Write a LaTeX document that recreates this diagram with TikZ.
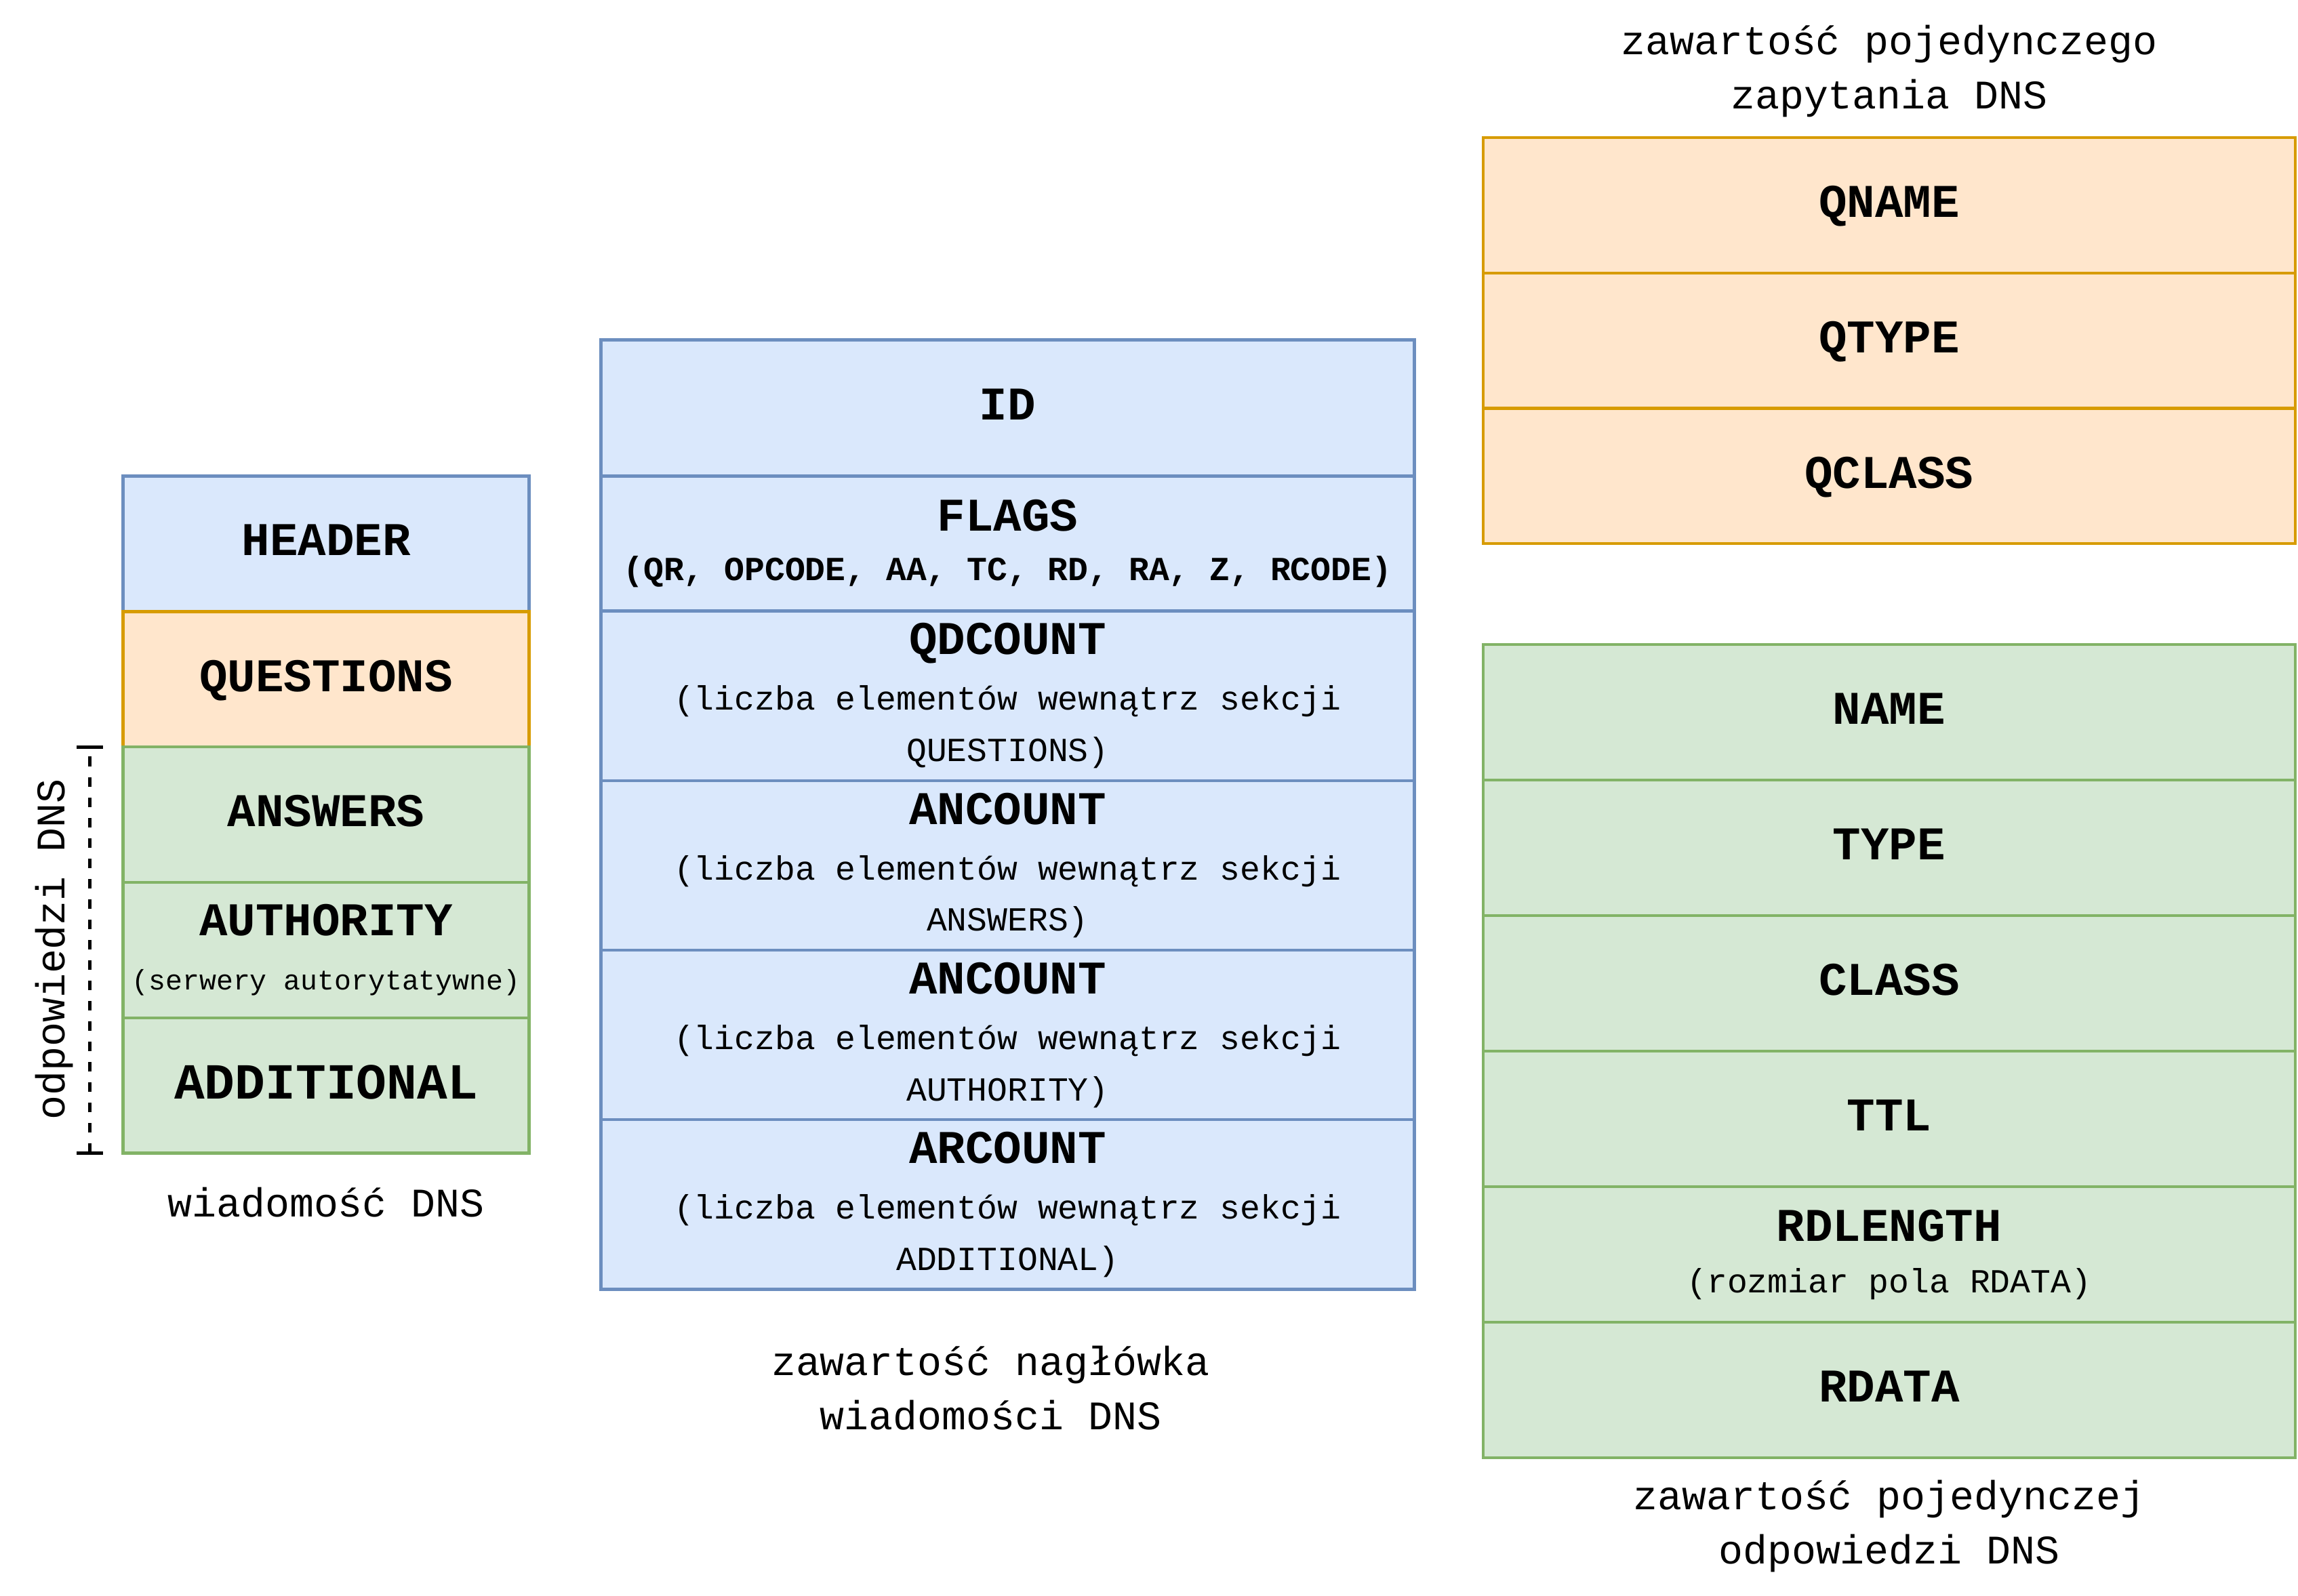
\documentclass[tikz,border=0pt]{standalone}
\usepackage{fontspec}
\setmainfont{Liberation Mono}
\usetikzlibrary{positioning}

\definecolor{blueFill}{HTML}{DAE8FC}
\definecolor{blueLine}{HTML}{6C8EBF}
\definecolor{orangeFill}{HTML}{FFE6CC}
\definecolor{orangeLine}{HTML}{D79B00}
\definecolor{greenFill}{HTML}{D5E8D4}
\definecolor{greenLine}{HTML}{82B366}

\newcommand{\fldtitle}{\fontsize{32}{35}\selectfont\bfseries}
\newcommand{\fldbig}{\fontsize{34.5}{35}\selectfont\bfseries}
\newcommand{\fldnote}{\fontsize{23}{35}\selectfont}
\newcommand{\fldsmall}{\fontsize{19.2}{35}\selectfont}
\newcommand{\caplabel}{\fontsize{27.7}{37}\selectfont}

\tikzset{
    field/.style={draw, rectangle, anchor=north west, inner sep=0pt, outer sep=0pt,
        line width=2pt, align=center, font=\fldnote},
    onerow/.style={text depth=5pt},
    bluefield/.style={field, fill=blueFill, draw=blueLine},
    orangefield/.style={field, fill=orangeFill, draw=orangeLine},
    greenfield/.style={field, fill=greenFill, draw=greenLine},
    caption/.style={align=center, font=\caplabel, inner sep=0pt}
}

\begin{document}
\begin{tikzpicture}[x=1pt,y=-1pt]
    \useasboundingbox (0,0) rectangle (1568,1089);

    % wiadomosc DNS
    \node[bluefield, onerow, minimum width=277, minimum height=92.4] (header) at (84,325) {\fldtitle HEADER};
    \node[orangefield, onerow, minimum width=277, minimum height=92.4] (questions) at (84,417.4) {\fldtitle QUESTIONS};
    \node[greenfield, onerow, minimum width=277, minimum height=92.4] (answers) at (84,509.8) {\fldtitle ANSWERS};
    \node[greenfield, minimum width=277, minimum height=92.4] (authority) at (84,602.2) {{\fldtitle AUTHORITY}\\[2pt]{\fldsmall (serwery autorytatywne)}};
    \node[greenfield, onerow, minimum width=277, minimum height=92.4] (additional) at (84,694.6) {\fldbig ADDITIONAL};
    \node[caption] (msglabel) at (222.5,820.5) {wiadomość DNS};

    % odpowiedzi DNS
    \coordinate (bracktop) at (61.3,510);
    \coordinate (brackbot) at (61.3,787);
    \draw[line width=2.3pt, dash pattern=on 6.5pt off 7.4pt] (brackbot) -- (bracktop);
    \draw[line width=2.3pt] ([xshift=-9pt]bracktop) -- ([xshift=9pt]bracktop);
    \draw[line width=2.3pt] ([xshift=-9pt]brackbot) -- ([xshift=9pt]brackbot);
    \node[font=\caplabel, inner sep=0pt, rotate=90, anchor=base] (resplabel) at (44.4,648) {odpowiedzi DNS};

    % naglowek
    \node[bluefield, onerow, minimum width=555, minimum height=93] (id) at (410,232) {\fldtitle ID};
    \node[bluefield, minimum width=555, minimum height=92] (flags) at (410,325) {{\fldtitle FLAGS}\\[-1pt]{\bfseries (QR, OPCODE, AA, TC, RD, RA, Z, RCODE)}};
    \node[bluefield, minimum width=555, minimum height=115.75] (qdcount) at (410,417) {{\fldtitle QDCOUNT}\\[3pt](liczba elementów wewnątrz sekcji\\QUESTIONS)};
    \node[bluefield, minimum width=555, minimum height=115.75] (ancount) at (410,532.75) {{\fldtitle ANCOUNT}\\[3pt](liczba elementów wewnątrz sekcji\\ANSWERS)};
    \node[bluefield, minimum width=555, minimum height=115.75] (nscount) at (410,648.5) {{\fldtitle ANCOUNT}\\[3pt](liczba elementów wewnątrz sekcji\\AUTHORITY)};
    \node[bluefield, minimum width=555, minimum height=115.75] (arcount) at (410,764.25) {{\fldtitle ARCOUNT}\\[3pt](liczba elementów wewnątrz sekcji\\ADDITIONAL)};
    \node[caption] (hdrlabel) at (676,947.5) {zawartość nagłówka\\wiadomości DNS};

    % zapytanie
    \node[caption] (qlabel) at (1289,48.5) {zawartość pojedynczego\\zapytania DNS};
    \node[orangefield, onerow, minimum width=554, minimum height=92.33] (qname) at (1012,94) {\fldtitle QNAME};
    \node[orangefield, onerow, minimum width=554, minimum height=92.33] (qtype) at (1012,186.33) {\fldtitle QTYPE};
    \node[orangefield, onerow, minimum width=554, minimum height=92.33] (qclass) at (1012,278.67) {\fldtitle QCLASS};

    % odpowiedz
    \node[greenfield, onerow, minimum width=554, minimum height=92.5] (name) at (1012,440) {\fldtitle NAME};
    \node[greenfield, onerow, minimum width=554, minimum height=92.5] (type) at (1012,532.5) {\fldtitle TYPE};
    \node[greenfield, onerow, minimum width=554, minimum height=92.5] (class) at (1012,625) {\fldtitle CLASS};
    \node[greenfield, onerow, minimum width=554, minimum height=92.5] (ttl) at (1012,717.5) {\fldtitle TTL};
    \node[greenfield, minimum width=554, minimum height=92.5] (rdlength) at (1012,810) {{\fldtitle RDLENGTH}\\[0pt](rozmiar pola RDATA)};
    \node[greenfield, onerow, minimum width=554, minimum height=92.5] (rdata) at (1012,902.5) {\fldtitle RDATA};
    \node[caption] (rrlabel) at (1289,1041.5) {zawartość pojedynczej\\odpowiedzi DNS};

\end{tikzpicture}
\end{document}
